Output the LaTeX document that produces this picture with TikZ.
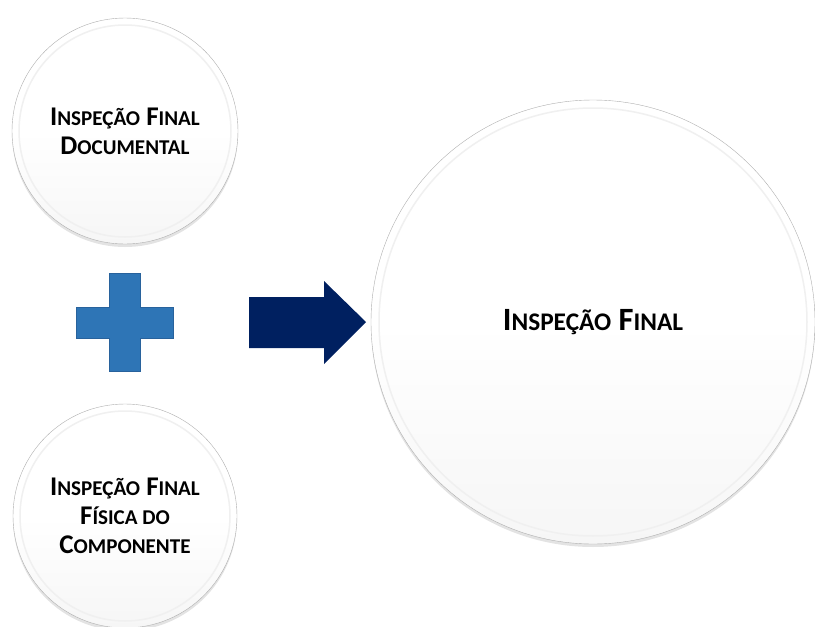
\documentclass[tikz,border=0pt]{standalone}
\usepackage{fontspec}
\setmainfont{Carlito}
\usetikzlibrary{shadows}
\definecolor{plusblue}{RGB}{46,117,182}
\definecolor{plusedge}{RGB}{40,98,156}
\definecolor{arrownavy}{RGB}{0,32,96}
\definecolor{rimgray}{RGB}{175,175,175}
\newcommand{\smc}[1]{\scalebox{0.78}{#1}}
\tikzset{
  bubble/.style={circle, draw=rimgray, top color=white, bottom color=gray!7,
    middle color=white,
    drop shadow={shadow xshift=0pt, shadow yshift=-3pt, opacity=0.22},
    align=center, text=black, inner sep=0pt},
  bevel/.style={draw=gray!12, line width=1.5pt},
}

\begin{document}
\begin{tikzpicture}[x=1pt, y=-1pt]
\useasboundingbox (0,0) rectangle (815,627);
% left circles
\node[bubble, minimum size=226pt, font=\fontsize{27}{29}\selectfont\bfseries] (doc) at (125,131)
  {I\smc{NSPEÇÃO} F\smc{INAL}\\D\smc{OCUMENTAL}};
\node[bubble, minimum size=224pt, font=\fontsize{27}{29}\selectfont\bfseries] (fis) at (125,516)
  {I\smc{NSPEÇÃO} F\smc{INAL}\\F\smc{ÍSICA DO}\\C\smc{OMPONENTE}};
% result
\node[bubble, minimum size=444pt, font=\fontsize{32.5}{36}\selectfont\bfseries] (final) at (593,322)
  {I\smc{NSPEÇÃO} F\smc{INAL}};
\draw[bevel] (doc.center) circle (106pt);
\draw[bevel] (fis.center) circle (105pt);
\draw[bevel] (final.center) circle (214pt);
% plus sign
\draw[plusedge, fill=plusblue, line width=1pt]
  (109,273) -- (140,273) -- (140,307) -- (173,307) -- (173,338) -- (140,338)
  -- (140,371) -- (109,371) -- (109,338) -- (76,338) -- (76,307) -- (109,307) -- cycle;
% block arrow
\fill[arrownavy] (249,297) -- (324,297) -- (324,281) -- (366,322) -- (324,364)
  -- (324,348) -- (249,348) -- cycle;
\end{tikzpicture}
\end{document}
